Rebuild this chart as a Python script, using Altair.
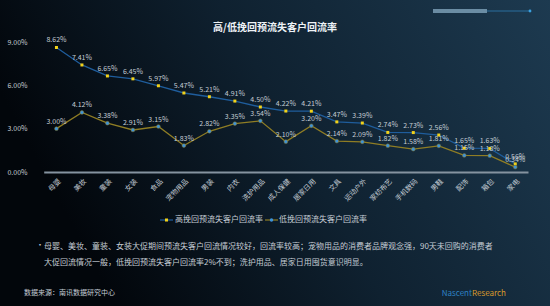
import altair as alt
import pandas as pd

categories = ["母婴", "美妆", "童装", "女装", "食品", "宠物用品", "男装", "内衣", "洗护用品", "成人保健",
              "居家日用", "文具", "运动户外", "家纺布艺", "手机数码", "男鞋", "配饰", "箱包", "家电"]
high = [8.62, 7.41, 6.65, 6.45, 5.97, 5.47, 5.21, 4.91, 4.50, 4.22, 4.21, 3.47, 3.39, 2.74, 2.73, 2.56, 1.65, 1.63, 0.56]
low = [3.00, 4.12, 3.38, 2.91, 3.15, 1.83, 2.82, 3.35, 3.54, 2.10, 3.20, 2.14, 2.09, 1.82, 1.58, 1.81, 1.15, 1.13, 0.34]
series = ["高挽回预流失客户回流率", "低挽回预流失客户回流率"]
y_ticks = [0, 3, 6, 9]

title_text = "高/低挽回预流失客户回流率"
note_lines = ["母婴、美妆、童装、女装大促期间预流失客户回流情况较好，回流率较高；宠物用品的消费者品牌观念强，90天未回购的消费者",
              "大促回流情况一般，低挽回预流失客户回流率2%不到；洗护用品、居家日用囤货意识明显。"]
source_text = "数据来源：南讯数据研究中心"

FONT = "Noto Sans CJK SC"
LBL = "#c4ccd4"
BLUE = "#1f5d9c"
OLIVE = "#8f7d24"
YELLOW = "#f2d21a"
DOT = "#3f93d8"

df = pd.DataFrame({
    "cat": categories * 2,
    "val": high + low,
    "series": [series[0]] * len(categories) + [series[1]] * len(categories),
})
df["label"] = df["val"].map(lambda v: f"{v:.2f}%")

one = pd.DataFrame({"a": [0]})

x_enc = alt.X("cat:N", sort=categories,
              scale=alt.Scale(type="point", range=[13.7, 498]),
              axis=alt.Axis(title=None, labelAngle=-45, labelColor=LBL, labelFont=FONT, labelFontSize=7,
                            domainColor="#8593a0", domainWidth=2, ticks=False, labelPadding=5, grid=False,
                            zindex=1))
y_enc = alt.Y("val:Q", scale=alt.Scale(domain=[0, 9], nice=False),
              axis=alt.Axis(title=None, values=y_ticks, labelExpr="format(datum.value, '.2f') + '%'",
                            labelColor=LBL, labelFont=FONT, labelFontSize=7, domain=False, ticks=False,
                            grid=False, labelPadding=3, zindex=1))

bg = alt.Chart(one).mark_rect(
    color=alt.LinearGradient(gradient="linear", x1=0, y1=0.3, x2=1, y2=0,
                             stops=[alt.GradientStop(color="#02060b", offset=0),
                                    alt.GradientStop(color="#0f2130", offset=0.45),
                                    alt.GradientStop(color="#1d3a50", offset=1)])
).encode(x=alt.value(-30), x2=alt.value(520), y=alt.value(-42), y2=alt.value(264))

base = alt.Chart(df)
hi = base.transform_filter(alt.datum.series == series[0])
lo = base.transform_filter(alt.datum.series == series[1])

hi_line = hi.mark_line(color=BLUE, strokeWidth=1.3).encode(x=x_enc, y=y_enc)
lo_line = lo.mark_line(color=OLIVE, strokeWidth=1.3).encode(x=x_enc, y=y_enc)
hi_pt = hi.mark_square(color=YELLOW, size=9, opacity=1).encode(x=x_enc, y=y_enc)
lo_pt = lo.mark_circle(color=DOT, size=14, opacity=1, stroke=OLIVE, strokeWidth=0.5).encode(x=x_enc, y=y_enc)
hi_txt = hi.mark_text(color=LBL, font=FONT, fontSize=7, dy=-7).encode(x=x_enc, y=y_enc, text="label:N")
lo_txt = lo.mark_text(color=LBL, font=FONT, fontSize=7, dy=-7).encode(x=x_enc, y=y_enc, text="label:N")

def txt(s, x, y, size=8, color=LBL, align="left", weight="normal"):
    return alt.Chart(one).mark_text(text=s, font=FONT, fontSize=size, color=color, align=align,
                                    baseline="middle", fontWeight=weight).encode(
        x=alt.value(x), y=alt.value(y))

title = txt(title_text, 245, -14, size=10, color="#eef2f6", align="center", weight="bold")

# legend
leg = [
    alt.Chart(one).mark_rule(color=BLUE, strokeWidth=1.2).encode(x=alt.value(130), x2=alt.value(143), y=alt.value(178)),
    alt.Chart(one).mark_square(color=YELLOW, size=9, opacity=1).encode(x=alt.value(136.5), y=alt.value(178)),
    txt(series[0], 145, 178, size=8),
    alt.Chart(one).mark_rule(color=OLIVE, strokeWidth=1.2).encode(x=alt.value(235), x2=alt.value(248), y=alt.value(178)),
    alt.Chart(one).mark_circle(color=DOT, size=12, opacity=1).encode(x=alt.value(241.5), y=alt.value(178)),
    txt(series[1], 249, 178, size=8),
]

notes = [
    txt("•", 6, 204, size=8),
    txt(note_lines[0], 14, 205, size=8),
    txt(note_lines[1], 14, 221, size=8),
    txt(source_text, -6, 251, size=7),
    txt("Nascent", 442, 252, size=8, color="#2e82c4", align="right"),
    txt("Research", 442, 252, size=8, color="#d99a2b", align="left"),
]

deco = [
    alt.Chart(one).mark_rule(color="#8fb4cc", strokeWidth=4, opacity=0.7).encode(
        x=alt.value(403), x2=alt.value(457), y=alt.value(-31)),
    alt.Chart(one).mark_rule(color="#2b6f9e", strokeWidth=1).encode(
        x=alt.value(457), x2=alt.value(500), y=alt.value(-31)),
    alt.Chart(one).mark_circle(color="#3aa0e0", size=8, opacity=1).encode(x=alt.value(500), y=alt.value(-31)),
]

chart = alt.layer(bg, *deco, hi_line, lo_line, hi_pt, lo_pt, hi_txt, lo_txt, title, *leg, *notes).properties(
    width=520, height=130,
    autosize=alt.AutoSizeParams(type="none"),
    padding={"left": 30, "top": 42, "right": 0, "bottom": 134},
    background="#07101a",
).configure_view(stroke=None)

chart.save("out.html", embed_options={"renderer": "svg", "actions": False})
